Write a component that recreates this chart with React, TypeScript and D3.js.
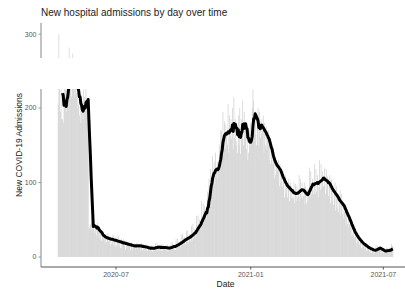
import React from 'react';
import * as d3 from 'd3';

// daily admissions, one value per day starting 2020-04-13 (rows = weeks)
const startDate = '2020-04-13';
const dailyAdmissions: number[] = [
  205, 300, 230, 195, 240, 185, 185,
  180, 210, 235, 225, 195, 250, 205,
  240, 282, 225, 230, 215, 245, 274,
  230, 250, 215, 240, 220, 235, 200,
  205, 190, 215, 180, 200, 195, 185,
  225, 215, 200, 230, 210, 195, 205,
  38, 40, 44, 36, 48, 38, 42,
  50, 32, 44, 28, 38, 46, 35,
  34, 24, 36, 22, 31, 30, 26,
  30, 18, 30, 20, 24, 32, 21,
  28, 16, 27, 18, 26, 30, 16,
  26, 14, 27, 15, 23, 28, 14,
  24, 12, 25, 13, 20, 24, 15,
  22, 10, 22, 12, 18, 20, 15,
  19, 9, 20, 10, 16, 18, 13,
  18, 10, 19, 11, 17, 16, 14,
  18, 8, 19, 9, 15, 17, 12,
  16, 7, 17, 8, 13, 14, 9,
  15, 8, 16, 7, 14, 13, 11,
  18, 8, 19, 9, 15, 14, 8,
  17, 9, 18, 8, 16, 13, 10,
  15, 8, 17, 7, 14, 13, 10,
  19, 9, 20, 10, 17, 14, 9,
  24, 12, 25, 13, 21, 18, 13,
  30, 15, 31, 17, 27, 24, 17,
  35, 18, 36, 20, 31, 28, 21,
  42, 22, 44, 25, 38, 34, 26,
  55, 32, 56, 35, 50, 44, 36,
  75, 45, 72, 48, 68, 60, 52,
  70, 88, 82, 105, 96, 118, 106,
  100, 135, 108, 128, 98, 140, 113,
  105, 128, 118, 150, 132, 170, 170,
  140, 195, 150, 182, 145, 178, 165,
  150, 205, 140, 190, 162, 185, 158,
  200, 145, 215, 160, 185, 150, 156,
  140, 190, 150, 200, 138, 185, 173,
  210, 150, 195, 160, 180, 145, 164,
  130, 140, 170, 150, 180, 165, 200,
  225, 210, 170, 195, 165, 150, 185,
  200, 150, 195, 160, 185, 165, 170,
  190, 140, 180, 150, 175, 145, 161,
  170, 130, 155, 125, 145, 130, 125,
  140, 105, 135, 110, 130, 115, 119,
  130, 95, 125, 100, 110, 95, 101,
  115, 80, 110, 85, 100, 80, 95,
  105, 75, 100, 78, 92, 80, 79,
  100, 72, 98, 75, 95, 80, 82,
  110, 75, 105, 80, 100, 78, 82,
  100, 70, 95, 72, 92, 75, 91,
  120, 80, 115, 85, 105, 90, 84,
  125, 85, 118, 88, 110, 80, 94,
  130, 90, 125, 92, 115, 95, 95,
  120, 85, 118, 90, 108, 82, 97,
  110, 72, 105, 75, 95, 70, 89,
  100, 62, 95, 65, 85, 60, 72,
  90, 55, 85, 58, 75, 52, 61,
  70, 42, 65, 45, 58, 40, 44,
  50, 28, 45, 30, 40, 25, 27,
  35, 18, 32, 20, 28, 16, 19,
  25, 12, 22, 14, 20, 11, 15,
  18, 8, 16, 9, 14, 7, 12,
  14, 5, 12, 6, 11, 5, 10,
  16, 8, 15, 9, 14, 10, 12,
  12, 4, 11, 5, 9, 6, 9,
  13, 5, 12, 6, 11, 7, 9,
  18, 10, 15,
];

const xTickDates = ['2020-07-01', '2021-01-01', '2021-07-01'];
const mainTicks = [0, 100, 200];
const topTicks = [300];
const rollWindow = 7;

const W = 405;
const H = 291;
const panelLeft = 41;
const panelRight = 410;
const mainPanel = { top: 89, bottom: 267 };
const topPanel = { top: 23, bottom: 58 };
const font = '"Liberation Sans", Arial, sans-serif';

type Pt = { date: Date; value: number };

export default function App() {
  const parse = d3.utcParse('%Y-%m-%d');
  const t0 = parse(startDate)!;
  const days: Pt[] = dailyAdmissions.map((v, i) => ({ date: d3.utcDay.offset(t0, i), value: v }));

  // ggplot-like 5% expansion around the bar extent
  const first = +days[0].date - 12 * 3600e3;
  const last = +days[days.length - 1].date + 12 * 3600e3;
  const span = last - first;
  const x = d3.scaleUtc()
    .domain([new Date(first - span * 0.05), new Date(last + span * 0.05)])
    .range([panelLeft, panelRight]);

  const yMain = d3.scaleLinear().domain([-13.4, 225.5]).range([mainPanel.bottom, mainPanel.top]);
  const yTop = d3.scaleLinear().domain([268, 315]).range([topPanel.bottom, topPanel.top]);

  const dayW = x(d3.utcDay.offset(t0, 1)) - x(t0);
  const barW = dayW * 0.9;

  const rolling: Pt[] = days.slice(rollWindow - 1).map((d, j) => ({
    date: d.date,
    value: d3.mean(dailyAdmissions.slice(j, j + rollWindow))!,
  }));

  const line = d3.line<Pt>()
    .x(d => x(d.date))
    .y(d => yMain(d.value));

  const barFill = '#cccccc';
  const tickColor = '#555';

  return (
    <svg width={W} height={H} style={{ position: 'absolute', left: 0, top: 0, background: '#fff' }}>
      <defs>
        <clipPath id="clip-main">
          <rect x={panelLeft} y={mainPanel.top} width={panelRight - panelLeft} height={mainPanel.bottom - mainPanel.top} />
        </clipPath>
        <clipPath id="clip-top">
          <rect x={panelLeft} y={topPanel.top} width={panelRight - panelLeft} height={topPanel.bottom - topPanel.top} />
        </clipPath>
      </defs>

      <text x={41} y={16} fontFamily={font} fontSize={10} fill="#222">
        New hospital admissions by day over time
      </text>

      {/* upper panel (broken axis) */}
      <g clipPath="url(#clip-top)">
        {days.filter(d => d.value > yTop.domain()[0]).map((d, i) => (
          <rect key={i} x={x(d.date) - barW / 2} width={barW}
            y={yTop(d.value)} height={topPanel.bottom - yTop(d.value)} fill={barFill} />
        ))}
      </g>
      <line x1={panelLeft} x2={panelLeft} y1={topPanel.top} y2={topPanel.bottom} stroke="#999" strokeWidth={1.2} />
      {topTicks.map(t => (
        <g key={t} transform={`translate(${panelLeft},${yTop(t)})`}>
          <line x1={-2.5} x2={0} stroke="#999" />
          <text x={-4.5} dy="0.35em" textAnchor="end" fontFamily={font} fontSize={7} fill={tickColor}>{t}</text>
        </g>
      ))}

      {/* main panel */}
      <g clipPath="url(#clip-main)">
        {days.map((d, i) => (
          <rect key={i} x={x(d.date) - barW / 2} width={barW}
            y={yMain(Math.max(d.value, 0))} height={yMain(0) - yMain(d.value)} fill={barFill} />
        ))}
        <path d={line(rolling) ?? ''} fill="none" stroke="#000" strokeWidth={3} strokeLinejoin="round" />
      </g>
      <line x1={panelLeft} x2={panelLeft} y1={mainPanel.top} y2={mainPanel.bottom} stroke="#999" strokeWidth={1.2} />
      {mainTicks.map(t => (
        <g key={t} transform={`translate(${panelLeft},${yMain(t)})`}>
          <line x1={-2.5} x2={0} stroke="#999" />
          <text x={-4.5} dy="0.35em" textAnchor="end" fontFamily={font} fontSize={7} fill={tickColor}>{t}</text>
        </g>
      ))}

      <line x1={panelLeft} x2={panelRight} y1={mainPanel.bottom} y2={mainPanel.bottom} stroke="#555" strokeWidth={1} />
      {xTickDates.map(s => {
        const d = parse(s)!;
        return (
          <g key={s} transform={`translate(${x(d)},${mainPanel.bottom})`}>
            <line y1={0} y2={2.5} stroke="#555" />
            <text y={10} textAnchor="middle" fontFamily={font} fontSize={7} fill={tickColor}>
              {d3.utcFormat('%Y-%m')(d)}
            </text>
          </g>
        );
      })}

      <text x={(panelLeft + panelRight) / 2} y={287} textAnchor="middle" fontFamily={font} fontSize={8.5} fill="#222">
        Date
      </text>
      <text transform={`translate(22,${(topPanel.top + mainPanel.bottom) / 2}) rotate(-90)`} textAnchor="middle"
        fontFamily={font} fontSize={8.5} fill="#222">
        New COVID-19 Admissions
      </text>
    </svg>
  );
}
